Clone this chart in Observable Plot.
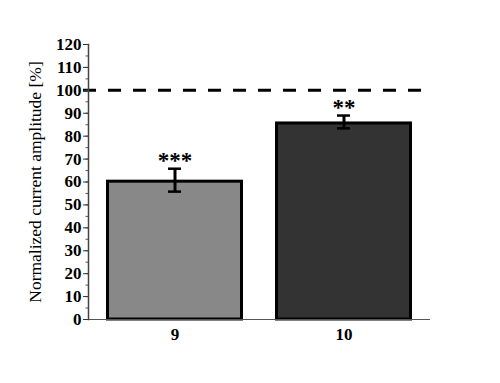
<!DOCTYPE html>
<html>
<head>
<meta charset="utf-8">
<script src="https://cdn.jsdelivr.net/npm/d3@7"></script>
<script src="https://cdn.jsdelivr.net/npm/@observablehq/plot@0.6"></script>
<style>
  html, body { margin: 0; padding: 0; background: #fff; }
  #chart { width: 500px; height: 383px; }
</style>
</head>
<body>
<div id="chart"></div>
<script>
const categories = ["9", "10"];
const values = [60.8, 86.2];
const errors = [5.0, 2.8];
const stars = ["***", "**"];
const fills = ["#888888", "#333333"];
const refLine = [100];
const yTicks = [0, 10, 20, 30, 40, 50, 60, 70, 80, 90, 100, 110, 120];
const yMinorTicks = d3.range(0, 121, 5);

const data = categories.map((c, i) => ({
  cat: c, value: values[i], err: errors[i], star: stars[i], fill: fills[i]
}));

const font = "'Liberation Serif', 'DejaVu Serif', serif";

const chart = Plot.plot({
  width: 500,
  height: 383,
  marginLeft: 88,
  marginRight: 70,
  marginTop: 44,
  marginBottom: 64,
  style: { fontFamily: font, background: "#fff", color: "#000" },
  x: { domain: categories, paddingInner: 0.188, paddingOuter: 0.1, label: null },
  y: { domain: [0, 120], label: null },
  marks: [
    Plot.barY(data, { x: "cat", y: "value", fill: "fill", stroke: "#000", strokeWidth: 3, insetTop: 1.5, insetLeft: 1.5, insetRight: 1.5 }),
    Plot.ruleX(data, { x: "cat", y1: d => d.value - d.err, y2: d => d.value + d.err, stroke: "#000", strokeWidth: 3 }),
    Plot.tickY(data, { x: "cat", y: d => d.value - d.err, stroke: "#000", strokeWidth: 2.5, insetLeft: 62, insetRight: 62 }),
    Plot.tickY(data, { x: "cat", y: d => d.value + d.err, stroke: "#000", strokeWidth: 2.5, insetLeft: 62, insetRight: 62 }),
    Plot.text(data, { x: "cat", y: d => d.value + d.err, text: "star", dy: -1, fontSize: 23, fontWeight: "bold", fill: "#000", lineAnchor: "bottom" }),
    Plot.ruleY(refLine, { stroke: "#000", strokeWidth: 3, strokeDasharray: "13,12", insetLeft: -5, insetRight: -2 }),
    Plot.ruleY([0], { stroke: "#555", strokeWidth: 1.2 }),
    Plot.axisY(yMinorTicks, { tickSize: 2.5, text: null, stroke: "#555", label: null }),
    Plot.axisY(yTicks, { tickSize: 5, tickPadding: 2, fontSize: 17, fontWeight: "bold", stroke: "#333", label: null }),
    Plot.frame({ anchor: "left", stroke: "#444", strokeWidth: 1.5 }),
    Plot.axisX({ tickSize: 0, tickPadding: 8, fontSize: 17, fontWeight: "bold", label: null }),
    Plot.text(["Normalized current amplitude [%]"], { frameAnchor: "left", textAnchor: "middle", dx: -53, y: 60, rotate: -90, fontSize: 17.5, fill: "#000" })
  ]
});

document.getElementById("chart").appendChild(chart);
</script>
</body>
</html>
